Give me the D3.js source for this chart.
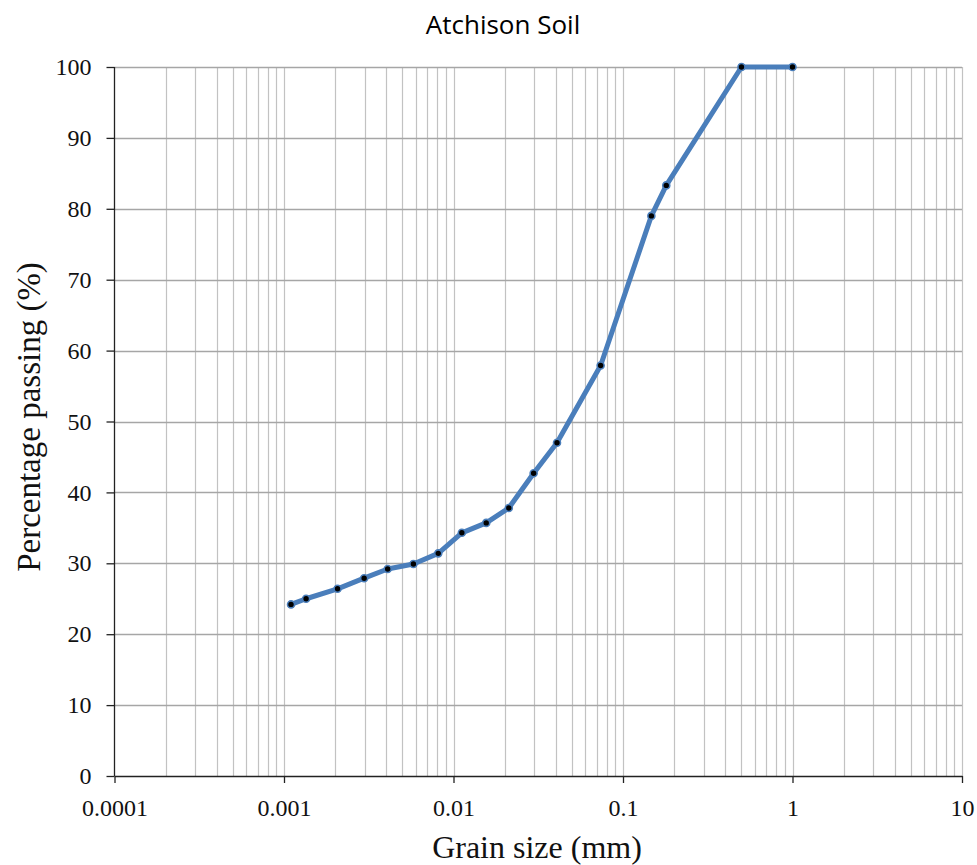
<!DOCTYPE html>
<html>
<head>
<meta charset="utf-8">
<script src="https://cdn.jsdelivr.net/npm/d3@7"></script>
<style>
  body { margin: 0; background: #fff; }
</style>
</head>
<body>
<div id="chart"></div>
<script>
// grain size (mm) and percent passing
var grainSize = [0.00110, 0.00135, 0.00207, 0.00297, 0.00409, 0.00580, 0.00813,
                 0.0112, 0.0156, 0.0212, 0.0297, 0.0408, 0.0738, 0.147, 0.180, 0.5, 1];
var passing = [24.2, 25.0, 26.4, 27.9, 29.2, 29.9, 31.4,
               34.3, 35.7, 37.8, 42.7, 47.0, 57.9, 79.0, 83.3, 100, 100];
var xTicks = [0.0001, 0.001, 0.01, 0.1, 1, 10];
var xTickLabels = ["0.0001", "0.001", "0.01", "0.1", "1", "10"];
var yTicks = [0, 10, 20, 30, 40, 50, 60, 70, 80, 90, 100];

function init() {
    var w = 977, h = 865;
    var left = 114.5, right = 962, top = 67, bottom = 776;

    var svg = d3.select("#chart").append("svg")
        .attr("width", w)
        .attr("height", h);

    var xscale = d3.scaleLog().domain([0.0001, 10]).range([left, right]);
    var yscale = d3.scaleLinear().domain([0, 100]).range([bottom, top]);

    // vertical grid: every minor log step
    var minor = [];
    for (var e = -4; e < 1; e++) {
        for (var m = 1; m <= 9; m++) minor.push(m * Math.pow(10, e));
    }
    minor.push(10);
    svg.append("g").selectAll("line")
        .data(minor.filter(function(d) { return d > 0.0001; }))
        .enter().append("line")
        .attr("x1", function(d) { return Math.round(xscale(d)) + 0.5; })
        .attr("x2", function(d) { return Math.round(xscale(d)) + 0.5; })
        .attr("y1", top).attr("y2", bottom)
        .attr("stroke", "#c2c2c2").attr("stroke-width", 1.2);

    // horizontal grid
    svg.append("g").selectAll("line")
        .data(yTicks.filter(function(d) { return d > 0; }))
        .enter().append("line")
        .attr("x1", left).attr("x2", right)
        .attr("y1", function(d) { return Math.round(yscale(d)) + 0.5; })
        .attr("y2", function(d) { return Math.round(yscale(d)) + 0.5; })
        .attr("stroke", "#a6a6a6").attr("stroke-width", 1.4);

    var xAxis = d3.axisBottom(xscale)
        .tickValues(xTicks)
        .tickFormat(function(d, i) { return xTickLabels[i]; })
        .tickSize(7).tickSizeOuter(0).tickPadding(16);
    var yAxis = d3.axisLeft(yscale)
        .tickValues(yTicks)
        .tickSize(8).tickSizeOuter(0).tickPadding(15);

    var gx = svg.append("g")
        .attr("transform", "translate(0," + bottom + ")")
        .call(xAxis);
    var gy = svg.append("g")
        .attr("transform", "translate(" + left + ",0)")
        .call(yAxis);

    [gx, gy].forEach(function(g) {
        g.selectAll("path, line").attr("stroke", "#222").attr("stroke-width", 1.3);
        g.selectAll("text")
            .style("font-family", "'Liberation Serif', 'Times New Roman', serif")
            .style("font-size", "24px")
            .attr("fill", "#111");
    });
    gy.select(".domain").remove();
    gy.append("line").attr("x1", 0).attr("x2", 0).attr("y1", top).attr("y2", bottom)
        .attr("stroke", "#222").attr("stroke-width", 1.3);

    var data = grainSize.map(function(d, i) { return [d, passing[i]]; });

    var line = d3.line()
        .x(function(d) { return xscale(d[0]); })
        .y(function(d) { return yscale(d[1]); });

    svg.append("path")
        .datum(data)
        .attr("d", line)
        .attr("fill", "none")
        .attr("stroke", "#4a7ebb")
        .attr("stroke-width", 5)
        .attr("stroke-linejoin", "round");

    svg.selectAll("circle")
        .data(data)
        .enter().append("circle")
        .attr("cx", function(d) { return xscale(d[0]); })
        .attr("cy", function(d) { return yscale(d[1]); })
        .attr("r", 3.5)
        .attr("fill", "#000")
        .attr("stroke", "#4a7ebb")
        .attr("stroke-width", 1.6);

    svg.append("text")
        .attr("x", 503).attr("y", 34)
        .attr("text-anchor", "middle")
        .style("font-family", "'Open Sans', sans-serif")
        .style("font-size", "26px")
        .attr("fill", "#000")
        .text("Atchison Soil");

    svg.append("text")
        .attr("x", 537).attr("y", 858)
        .attr("text-anchor", "middle")
        .style("font-family", "'Liberation Serif', 'Times New Roman', serif")
        .style("font-size", "32px")
        .attr("fill", "#111")
        .text("Grain size (mm)");

    svg.append("text")
        .attr("transform", "translate(40,417) rotate(-90)")
        .attr("text-anchor", "middle")
        .style("font-family", "'Liberation Serif', 'Times New Roman', serif")
        .style("font-size", "33px")
        .attr("fill", "#111")
        .text("Percentage passing (%)");
}
window.onload = init;
</script>
</body>
</html>
